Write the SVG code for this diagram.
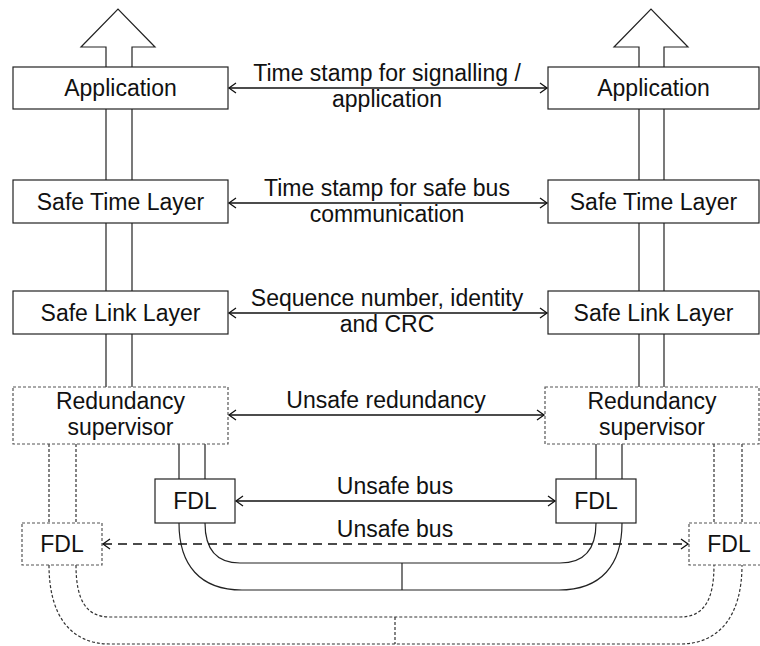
<svg xmlns="http://www.w3.org/2000/svg" width="760" height="646" viewBox="0 0 760 646">
<defs>
<style>
.box{fill:#fff;stroke:#222;stroke-width:1.2}
.dbox{fill:#fff;stroke:#555;stroke-width:1.2;stroke-dasharray:3 2}
.ln{fill:none;stroke:#222;stroke-width:1.2}
.dl{fill:none;stroke:#333;stroke-width:1.2;stroke-dasharray:3 2}
.conn{fill:none;stroke:#111;stroke-width:1.3;marker-start:url(#ah);marker-end:url(#ah)}
.dconn{fill:none;stroke:#111;stroke-width:1.3;stroke-dasharray:9 6;marker-start:url(#ah);marker-end:url(#ah)}
text{font-family:"Liberation Sans",Arial,Helvetica,sans-serif;font-size:23px;fill:#111;text-anchor:middle}
</style>
<marker id="ah" markerUnits="userSpaceOnUse" markerWidth="12" markerHeight="12" viewBox="0 0 12 12" refX="10" refY="6" orient="auto-start-reverse">
<path d="M3,1 L10,6 L3,11" fill="none" stroke="#111" stroke-width="1.3"/>
</marker>
</defs>

<g id="big-arrows">
<path class="ln" d="M106,387 V47 H81 L118,9 L155,47 H132 V387"/>
<path class="ln" d="M639,387 V47 H614 L651,9 L688,47 H664 V387"/>
</g>

<g id="bus-lines">
<path class="ln" d="M179,444 V479 M205,444 V479 M596,444 V479 M622,444 V479"/>
<path class="ln" d="M205,523 C205,548 215,563 240,563 H560 C585,563 596,548 596,523"/>
<path class="ln" d="M179,523 C179,565 200,590 242,590 H559 C601,590 622,565 622,523"/>
<path class="ln" d="M402,563 V590"/>
<path class="dl" d="M49,444 V523 M76,444 V523 M714,444 V523 M742,444 V523"/>
<path class="dl" d="M76,565 C76,600 86,617 110,617 H680 C704,617 714,600 714,565"/>
<path class="dl" d="M49,565 C49,615 70,644 110,644 H680 C720,644 742,615 742,565"/>
<path class="dl" d="M395,617 V644"/>
</g>

<g id="app-left"><rect class="box" x="13" y="67" width="215" height="42"/><text x="120.5" y="96">Application</text></g>
<g id="app-right"><rect class="box" x="548" y="67" width="211" height="42"/><text x="653.5" y="96">Application</text></g>
<g id="stl-left"><rect class="box" x="13" y="180" width="215" height="43"/><text x="120.5" y="210">Safe Time Layer</text></g>
<g id="stl-right"><rect class="box" x="548" y="180" width="211" height="43"/><text x="653.5" y="210">Safe Time Layer</text></g>
<g id="sll-left"><rect class="box" x="13" y="291" width="215" height="43"/><text x="120.5" y="321">Safe Link Layer</text></g>
<g id="sll-right"><rect class="box" x="548" y="291" width="211" height="43"/><text x="653.5" y="321">Safe Link Layer</text></g>
<g id="rs-left"><rect class="dbox" x="13" y="387" width="215" height="57"/><text x="120.5" y="409">Redundancy</text><text x="120.5" y="435">supervisor</text></g>
<g id="rs-right"><rect class="dbox" x="545" y="387" width="214" height="57"/><text x="652" y="409">Redundancy</text><text x="652" y="435">supervisor</text></g>
<g id="fdl-left"><rect class="box" x="155" y="479" width="80" height="44"/><text x="195" y="509">FDL</text></g>
<g id="fdl-right"><rect class="box" x="556" y="479" width="80" height="44"/><text x="596" y="509">FDL</text></g>
<g id="fdl2-left"><rect class="dbox" x="22" y="523" width="80" height="42"/><text x="62" y="552">FDL</text></g>
<g id="fdl2-right"><rect class="dbox" x="689" y="523" width="80" height="42"/><text x="729" y="552">FDL</text></g>

<g id="connectors">
<line class="conn" x1="229" y1="88" x2="547" y2="88"/>
<line class="conn" x1="229" y1="203" x2="547" y2="203"/>
<line class="conn" x1="229" y1="313" x2="547" y2="313"/>
<line class="conn" x1="229" y1="415" x2="544" y2="415"/>
<line class="conn" x1="236" y1="501" x2="555" y2="501"/>
<line class="dconn" x1="103" y1="544" x2="688" y2="544"/>
</g>

<g id="labels">
<text x="387" y="81">Time stamp for signalling /</text>
<text x="387" y="107">application</text>
<text x="387" y="196">Time stamp for safe bus</text>
<text x="387" y="222">communication</text>
<text x="387" y="306">Sequence number, identity</text>
<text x="387" y="332">and CRC</text>
<text x="386" y="408">Unsafe redundancy</text>
<text x="395" y="494">Unsafe bus</text>
<text x="395" y="537">Unsafe bus</text>
</g>
</svg>
